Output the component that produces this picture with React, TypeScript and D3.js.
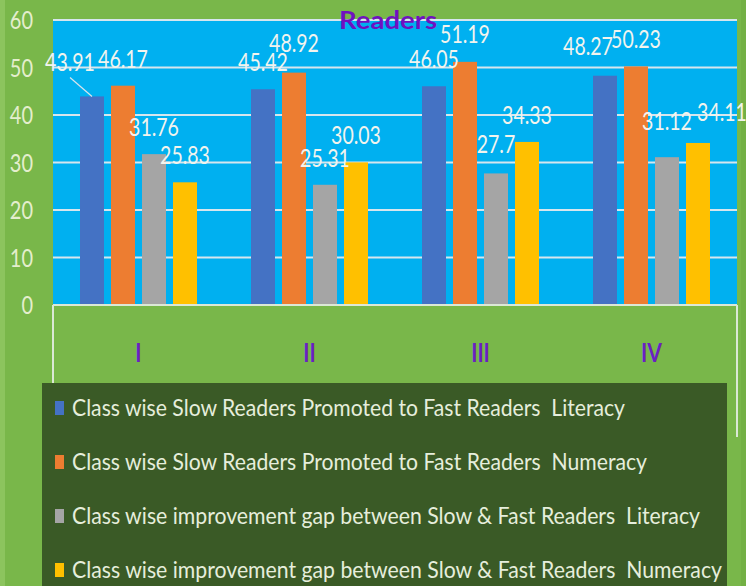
import React from "react";
import * as d3 from "d3";

const categories = ["I", "II", "III", "IV"];
const seriesNames = [
  "Class wise Slow Readers Promoted to Fast Readers  Literacy",
  "Class wise Slow Readers Promoted to Fast Readers  Numeracy",
  "Class wise improvement gap between Slow & Fast Readers  Literacy",
  "Class wise improvement gap between Slow & Fast Readers  Numeracy",
];
const slowToFastLiteracy = [43.91, 45.42, 46.05, 48.27];
const slowToFastNumeracy = [46.17, 48.92, 51.19, 50.23];
const gapLiteracy = [31.76, 25.31, 27.7, 31.12];
const gapNumeracy = [25.83, 30.03, 34.33, 34.11];
const yTicks = [0, 10, 20, 30, 40, 50, 60];
const title = "Readers";

const seriesValues = [slowToFastLiteracy, slowToFastNumeracy, gapLiteracy, gapNumeracy];
const seriesColors = ["#4472c4", "#ed7d31", "#a5a5a5", "#ffc000"];
// manual label nudges [category][series] -> [dx, dy]
const labelNudges: [number, number][][] = [
  [[-22, -7], [0, 0], [0, 0], [0, 0]],
  [[0, 0], [0, -3], [0, 0], [0, 0]],
  [[0, 0], [0, -1], [0, -2], [0, 0]],
  [[-17, -3], [0, 0], [0, -9], [24, -4]],
];
const legendWidths = [553, 575, 628, 650];

const W = 746;
const H = 586;
const plotLeft = 53;
const plotRight = 737;
const plotTop = 20;
const plotBottom = 305;
const FONT = "Lato, 'Open Sans', sans-serif";

function SqText({ x, y, sx, size, fill, anchor, children, weight }: any) {
  return (
    <text
      transform={`translate(${x},${y}) scale(${sx},1)`}
      fontSize={size}
      fill={fill}
      textAnchor={anchor}
      fontFamily={FONT}
      fontWeight={weight || "normal"}
    >
      {children}
    </text>
  );
}

export default function App() {
  const x0 = d3.scaleBand<string>().domain(categories).range([plotLeft, plotRight]).padding(0);
  const groupW = 117;
  const x1 = d3
    .scaleBand<number>()
    .domain(d3.range(seriesValues.length))
    .range([0, groupW])
    .paddingInner(7 / 31)
    .paddingOuter(0);
  const y = d3.scaleLinear().domain([0, 60]).range([plotBottom, plotTop]);
  const groupOffset = (x0.bandwidth() - groupW) / 2;

  const bars: any[] = [];
  const labels: any[] = [];
  categories.forEach((c, ci) => {
    seriesValues.forEach((vals, si) => {
      const v = vals[ci];
      const bx = (x0(c) as number) + groupOffset + (x1(si) as number);
      const bw = x1.bandwidth();
      const top = y(v);
      bars.push(
        <rect key={`b${ci}-${si}`} x={bx} y={top} width={bw} height={plotBottom - top} fill={seriesColors[si]} />
      );
      const [dx, dy] = labelNudges[ci][si];
      const lx = bx + bw / 2 + dx;
      const lcy = top - 27 + dy;
      if (si === 0 && ci === 0) {
        labels.push(
          <line
            key={`ll${ci}-${si}`}
            x1={lx}
            y1={lcy + 15}
            x2={bx + bw / 2}
            y2={top}
            stroke="#d8e4ec"
            strokeWidth={1.2}
          />
        );
      }
      labels.push(
        <SqText key={`l${ci}-${si}`} x={lx} y={lcy + 9} sx={0.78} size={25} fill="#f2f4ee" anchor="middle">
          {String(v)}
        </SqText>
      );
    });
  });

  return (
    <svg
      width={W}
      height={H}
      style={{ position: "absolute", left: 0, top: 0, display: "block" }}
      xmlns="http://www.w3.org/2000/svg"
    >
      <rect x={0} y={0} width={W} height={H} fill="#79b74a" />
      <rect x={0} y={0} width={5} height={H} fill="#8cc45e" />
      <rect x={741} y={0} width={5} height={H} fill="#73b044" />
      {/* plot area */}
      <rect x={plotLeft} y={plotTop} width={plotRight - plotLeft} height={plotBottom - plotTop} fill="#00b0f0" />
      {yTicks.map((t) => (
        <line
          key={`g${t}`}
          x1={plotLeft}
          x2={plotRight}
          y1={y(t)}
          y2={y(t)}
          stroke="#d6e6ee"
          strokeWidth={2}
        />
      ))}
      {bars}
      {/* axis box below */}
      <line x1={plotLeft} x2={plotRight} y1={plotBottom} y2={plotBottom} stroke="#dbe8d6" strokeWidth={2} />
      <line x1={plotLeft} x2={plotLeft} y1={plotBottom} y2={383} stroke="#dbe8d6" strokeWidth={2} />
      <line x1={plotRight} x2={plotRight} y1={plotBottom} y2={437} stroke="#dbe8d6" strokeWidth={2} />
      {/* y tick labels */}
      {yTicks.map((t) => (
        <SqText key={`yt${t}`} x={33} y={y(t) + 9} sx={0.8} size={25} fill="#e4eecd" anchor="end">
          {String(t)}
        </SqText>
      ))}
      {labels}
      {/* category labels */}
      {categories.map((c) => (
        <SqText
          key={`c${c}`}
          x={(x0(c) as number) + x0.bandwidth() / 2}
          y={362}
          sx={0.78}
          size={27}
          fill="#6a1fc4"
          anchor="middle"
          weight="bold"
        >
          {c}
        </SqText>
      ))}
      {/* title */}
      <text
        x={388}
        y={29}
        fontSize={25}
        fontWeight="bold"
        fill="#7010c0"
        textAnchor="middle"
        fontFamily={FONT}
        textLength={98}
        lengthAdjust="spacingAndGlyphs"
      >
        {title}
      </text>
      {/* legend */}
      <rect x={42} y={383} width={685} height={H - 383} fill="#3a5a26" />
      {seriesNames.map((name, i) => {
        const cy = 408 + i * 54;
        return (
          <g key={`lg${i}`}>
            <rect x={55} y={cy - 7} width={9} height={14} fill={seriesColors[i]} />
            <text
              x={72}
              y={cy + 8}
              fontSize={23}
              fill="#e6eedc"
              fontFamily={FONT}
              textLength={legendWidths[i]}
              lengthAdjust="spacingAndGlyphs"
              style={{ whiteSpace: "pre" }}
            >
              {name}
            </text>
          </g>
        );
      })}
    </svg>
  );
}
